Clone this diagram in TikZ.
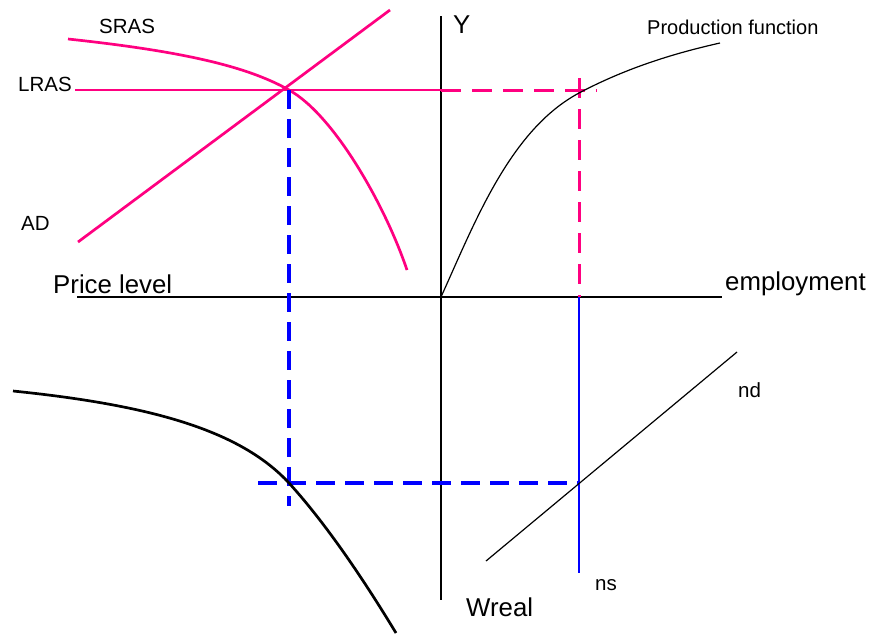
\documentclass[tikz,border=0pt]{standalone}
\usepackage{fontspec}
\setmainfont{Liberation Sans}
\definecolor{hotpink}{RGB}{255,0,128}
\definecolor{pureblue}{RGB}{0,0,255}
\begin{document}
\begin{tikzpicture}[x=1pt,y=-1pt,
  axis/.style={black,line width=1.4pt},
  pinkline/.style={hotpink,line width=2.7pt},
  pinkdash/.style={hotpink,line width=3pt,dash pattern=on 20pt off 11pt},
  bluedash/.style={pureblue,line width=3.3pt,dash pattern=on 19pt off 10pt},
  blueline/.style={pureblue,line width=1.6pt},
  thincurve/.style={black,line width=1.2pt},
  thickcurve/.style={black,line width=2.7pt},
  biglabel/.style={font=\fontsize{25.8}{28}\selectfont,inner sep=0pt,anchor=base west},
  smalllabel/.style={font=\fontsize{20.5}{24}\selectfont,inner sep=0pt,anchor=base west}]
\useasboundingbox (0,0) rectangle (870,633);
% coordinates
\coordinate (hL) at (77,297);
\coordinate (hR) at (722,297);
\coordinate (vT) at (441,16);
\coordinate (vB) at (441,600);
\coordinate (O) at (441,297);
\coordinate (E) at (289,90);
\coordinate (lrasL) at (75,90);
\coordinate (lrasR) at (441,90);
\coordinate (pdR) at (597,90);
\coordinate (pvT) at (579,78);
\coordinate (pvB) at (579,297);
\coordinate (adL) at (78,242);
\coordinate (adR) at (390,10);
\coordinate (bvB) at (289,506);
\coordinate (bhL) at (258,483);
\coordinate (W) at (579,483);
\coordinate (nsB) at (579,573);
\coordinate (ndL) at (486,561);
\coordinate (ndR) at (737,352);
\coordinate (P) at (579,93);
\coordinate (srasL) at (68,39);
\coordinate (srasR) at (407,270);
\coordinate (pfR) at (720,43);
\coordinate (bcL) at (13,391);
\coordinate (bcR) at (396,633);
\coordinate (bcM) at (289,483);
% axes
\draw[axis] (hL) -- (hR);
\draw[axis] (vT) -- (vB);
% LRAS, AD, SRAS
\draw[pinkline] (lrasL) -- (lrasR);
\draw[pinkline] (adL) -- (adR);
\draw[pinkline] (srasL) .. controls (190,52) and (250,68) .. (E) .. controls (334,115) and (385,205) .. (srasR);
% pink dashed
\draw[pinkdash] (lrasR) -- (pdR);
\draw[pinkdash] (pvT) -- (pvB);
% production function
\draw[thincurve] (O) .. controls (475,222) and (510,130) .. (P) .. controls (630,66) and (680,52) .. (pfR);
% blue
\draw[blueline] (pvB) -- (nsB);
\draw[bluedash] (E) -- (bvB);
\draw[bluedash] (bhL) -- (W);
% nd line
\draw[thincurve] (ndL) -- (ndR);
% bottom-left curve
\draw[thickcurve] (bcL) .. controls (150,405) and (240,430) .. (bcM) .. controls (330,528) and (370,590) .. (bcR);
% labels
\node[smalllabel] (sras) at (99,33) {SRAS};
\node[smalllabel] (lras) at (18,91) {LRAS};
\node[smalllabel] (ad) at (21,230) {AD};
\node[biglabel] (price) at (53,293) {Price level};
\node[biglabel] (emp) at (725,290) {employment};
\node[biglabel] (y) at (453,33) {Y};
\node[smalllabel,font=\fontsize{20}{24}\selectfont] (pf) at (647,34) {Production function};
\node[smalllabel] (nd) at (738,397) {nd};
\node[smalllabel] (ns) at (595,590) {ns};
\node[biglabel] (wreal) at (466,616) {Wreal};
\end{tikzpicture}
\end{document}
